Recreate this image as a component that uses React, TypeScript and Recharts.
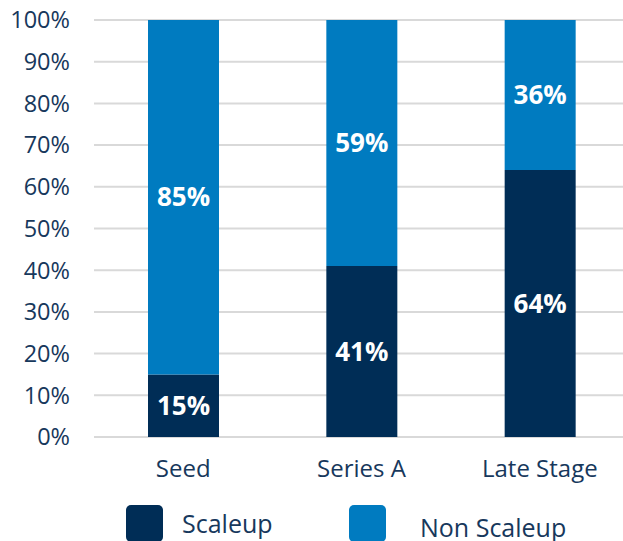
import React from "react";
import { BarChart, Bar, XAxis, YAxis, CartesianGrid, LabelList, Legend } from "recharts";

// stages and shares (percent)
const stages = ["Seed", "Series A", "Late Stage"];
const scaleup = [15, 41, 64];
const nonScaleup = [85, 59, 36];
const yTicks = [0, 10, 20, 30, 40, 50, 60, 70, 80, 90, 100];

const COLORS = {
  scaleup: "#002d56",
  nonScaleup: "#007bc0",
  text: "#17385c",
  grid: "#d9d9d9",
};

const FONT = "'Open Sans', sans-serif";

const data = stages.map((s, i) => ({ stage: s, scaleup: scaleup[i], nonScaleup: nonScaleup[i] }));

function LegendBox() {
  return (
    <div style={{ position: "relative", width: 623, height: 64, fontFamily: FONT, color: COLORS.text, fontSize: 25 }}>
      <div style={{ position: "absolute", left: 126, top: 28, width: 37, height: 37, borderRadius: 5, background: COLORS.scaleup }} />
      <div style={{ position: "absolute", left: 182, top: 29, lineHeight: "34px" }}>Scaleup</div>
      <div style={{ position: "absolute", left: 349, top: 28, width: 37, height: 37, borderRadius: 5, background: COLORS.nonScaleup }} />
      <div style={{ position: "absolute", left: 420, top: 33, lineHeight: "34px" }}>Non Scaleup</div>
    </div>
  );
}

export default function App() {
  return (
    <div style={{ position: "absolute", left: 0, top: 0, width: 623, height: 541, overflow: "hidden", background: "#fff" }}>
      <BarChart width={630} height={541} data={data} margin={{ top: 20, right: 1, left: 0, bottom: 0 }} barSize={71}>
        <CartesianGrid vertical={false} stroke={COLORS.grid} strokeWidth={2} />
        <XAxis
          dataKey="stage"
          axisLine={false}
          tickLine={false}
          height={40}
          tickMargin={17}
          tick={{ fill: COLORS.text, fontSize: 24, fontFamily: FONT }}
        />
        <YAxis
          domain={[0, 100]}
          ticks={yTicks}
          width={94}
          axisLine={false}
          tickLine={false}
          tickMargin={18}
          tickFormatter={(v: number) => `${v}%`}
          tick={{ fill: COLORS.text, fontSize: 23.5, fontFamily: FONT }}
        />
        <Legend verticalAlign="bottom" content={() => <LegendBox />} />
        <Bar dataKey="scaleup" name="Scaleup" stackId="a" fill={COLORS.scaleup} isAnimationActive={false}>
          <LabelList dataKey="scaleup" position="center" formatter={(v: number) => `${v}%`} fill="#fff" fontSize={26} fontWeight={700} fontFamily={FONT} />
        </Bar>
        <Bar dataKey="nonScaleup" name="Non Scaleup" stackId="a" fill={COLORS.nonScaleup} isAnimationActive={false}>
          <LabelList dataKey="nonScaleup" position="center" formatter={(v: number) => `${v}%`} fill="#fff" fontSize={26} fontWeight={700} fontFamily={FONT} />
        </Bar>
      </BarChart>
    </div>
  );
}
